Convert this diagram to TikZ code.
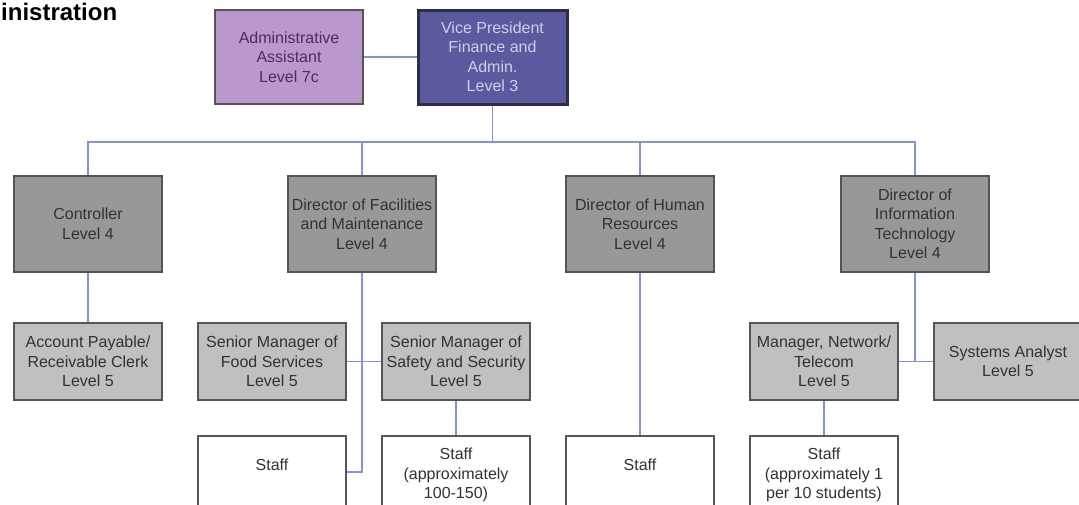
\documentclass[tikz,border=0pt]{standalone}
\usepackage{fontspec}
\setmainfont{Liberation Sans}
\definecolor{linec}{RGB}{135,145,205}
\definecolor{bordc}{RGB}{85,85,85}
\definecolor{adminfill}{RGB}{186,152,204}
\definecolor{admintext}{RGB}{75,45,90}
\definecolor{vpfill}{RGB}{92,90,158}
\definecolor{vpbord}{RGB}{45,45,70}
\definecolor{vptext}{RGB}{210,205,235}
\definecolor{lfourfill}{RGB}{152,152,152}
\definecolor{lfivefill}{RGB}{192,192,192}
\definecolor{txtc}{RGB}{50,50,50}
\tikzset{
  box/.style={draw=bordc, line width=2pt, align=center, inner sep=0pt,
    text=txtc, font=\fontsize{16}{19.5}\selectfont},
  adminbox/.style={box, fill=adminfill, text=admintext, minimum width=148pt, minimum height=94pt},
  vpbox/.style={box, draw=vpbord, line width=3pt, fill=vpfill, text=vptext, minimum width=149pt, minimum height=94pt},
  lfour/.style={box, fill=lfourfill, minimum width=148pt, minimum height=96pt},
  lfive/.style={box, fill=lfivefill, minimum width=148pt, minimum height=77pt},
  staffbox/.style={box, fill=white, minimum width=148pt, minimum height=72pt},
  stafftext/.style={align=center, inner sep=0pt, text=txtc, font=\fontsize{16}{19.5}\selectfont},
  conn/.style={draw=linec, line width=1.6pt},
}
\begin{document}
\begin{tikzpicture}[x=1pt, y=-1pt]
\useasboundingbox (0,0) rectangle (1079,504);
\fill[white] (0,0) rectangle (1079,504);
% title
\node[anchor=base west, inner sep=0pt, font=\fontsize{24}{24}\selectfont\bfseries, text=black] (title) at (1,20) {inistration};
% top
\node[adminbox] (admin) at (289,57) {Administrative\\Assistant\\Level 7c};
\node[vpbox] (vp) at (492.5,57) {Vice President\\Finance and\\Admin.\\Level 3};
% level 4
\node[lfour] (ctrl) at (88,224) {Controller\\Level 4};
\node[lfour] (fac) at (362,224) {Director of Facilities\\and Maintenance\\Level 4};
\node[lfour] (hr) at (640,224) {Director of Human\\Resources\\Level 4};
\node[lfour] (it) at (915,224) {Director of\\Information\\Technology\\Level 4};
% level 5
\node[lfive] (acct) at (88,361.5) {Account Payable/\\Receivable Clerk\\Level 5};
\node[lfive] (food) at (272,361.5) {Senior Manager of\\Food Services\\Level 5};
\node[lfive] (safe) at (456,361.5) {Senior Manager of\\Safety and Security\\Level 5};
\node[lfive] (mgr) at (824,361.5) {Manager, Network/\\Telecom\\Level 5};
\node[lfive] (sys) at (1008,361.5) {Systems Analyst\\Level 5};
% staff
\node[staffbox] (s1) at (272,472) {};
\node[staffbox] (s2) at (456,472) {};
\node[staffbox] (s3) at (640,472) {};
\node[staffbox] (s4) at (824,472) {};
\node[stafftext] (s1t) at (272,465) {Staff};
\node[stafftext, anchor=north] (s2t) at (456,448) {Staff\\(approximately\\100-150)};
\node[stafftext] (s3t) at (640,465) {Staff};
\node[stafftext, anchor=north] (s4t) at (824,448) {Staff\\(approximately 1\\per 10 students)};
% connectors
\coordinate (busy) at (0,142);
\draw[conn] (admin.east) -- (vp.west);
\draw[conn] (vp.south) -- (vp.south |- busy);
\draw[conn] (ctrl.north) -- (ctrl.north |- busy) -- (it.north |- busy) -- (it.north);
\draw[conn] (fac.north) -- (fac.north |- busy);
\draw[conn] (hr.north) -- (hr.north |- busy);
\draw[conn] (ctrl.south) -- (acct.north);
\draw[conn] (fac.south) |- (s1.east);
\draw[conn] (food.east) -- (safe.west);
\draw[conn] (safe.south) -- (s2.north);
\draw[conn] (hr.south) -- (s3.north);
\draw[conn] (it.south) -- (it.south |- mgr.east);
\draw[conn] (mgr.east) -- (sys.west);
\draw[conn] (mgr.south) -- (s4.north);
\end{tikzpicture}
\end{document}
